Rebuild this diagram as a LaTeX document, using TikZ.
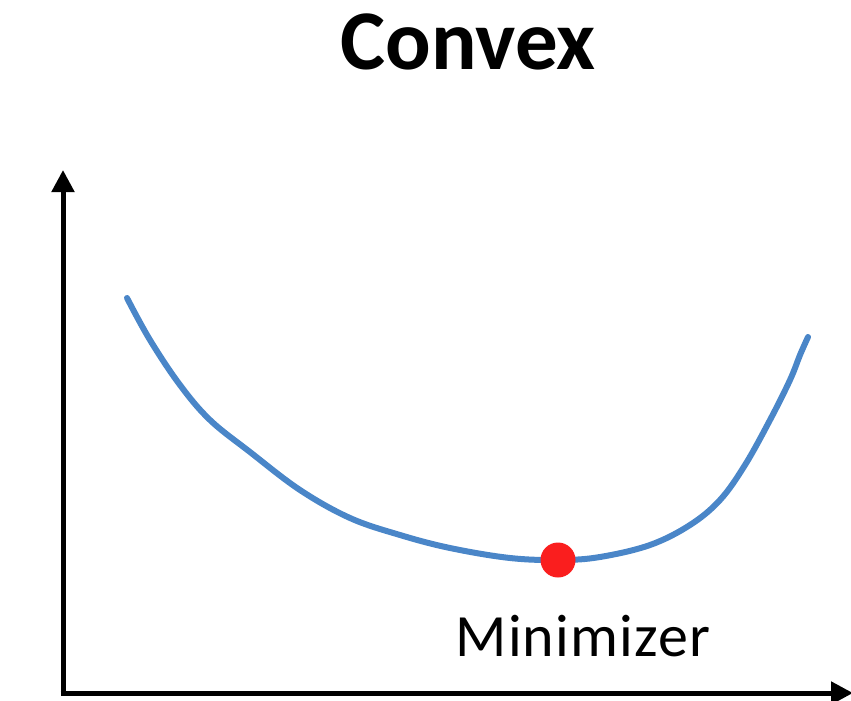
\documentclass[tikz,border=0pt]{standalone}
\usepackage{fontspec}
\setmainfont{Carlito}
\usetikzlibrary{arrows.meta}
\definecolor{curveblue}{RGB}{74,134,200}
\definecolor{dotred}{RGB}{250,30,30}
\tikzset{
  axis/.style={line width=5pt,-{Triangle[width=22pt,length=22pt]}},
  curve/.style={line width=6pt,curveblue,line cap=round,line join=round},
  dot/.style={circle,fill=dotred,inner sep=0pt,minimum size=35pt},
  lbl/.style={inner sep=0pt,anchor=base}
}
\begin{document}
\begin{tikzpicture}[x=1pt,y=-1pt]
\useasboundingbox (0,0) rectangle (851,701);
\coordinate (o) at (63,693);
\coordinate (ytip) at (63,170);
\coordinate (xtip) at (853,693);
\draw[axis] (63,695.5) -- (ytip);
\draw[axis] (60.5,693) -- (xtip);
\draw[curve] plot[smooth,tension=0.6] coordinates {
 (127,298) (150,340) (180,385) (210,420) (250,452) (300,490) (350,518)
 (400,535) (450,548) (510,558) (560,560) (600,557) (650,545) (690,525)
 (720,500) (745,465) (770,420) (790,380) (800,355) (808,337)};
\node[dot] (min) at (558,560) {};
\node[lbl,font=\fontsize{85}{92}\selectfont\bfseries] (title) at (468,70) {Convex};
\node[lbl,font=\fontsize{60}{66}\selectfont\addfontfeatures{LetterSpace=2}] (minlbl) at (583,656) {Minimizer};
\end{tikzpicture}
\end{document}
